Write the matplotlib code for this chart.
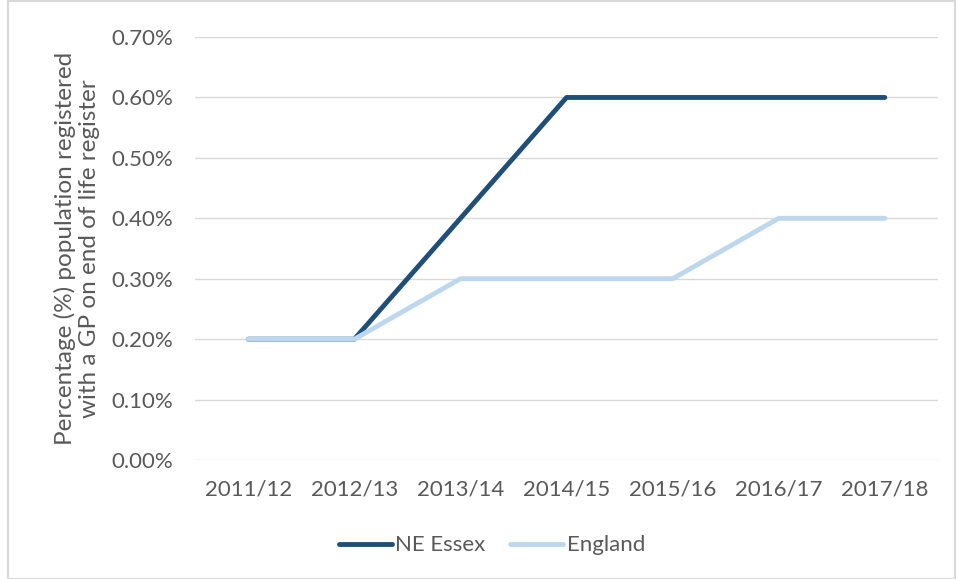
import matplotlib
matplotlib.use("Agg")
import matplotlib.pyplot as plt
from matplotlib.patches import Rectangle
from matplotlib.ticker import FuncFormatter

years = ["2011/12", "2012/13", "2013/14", "2014/15", "2015/16", "2016/17", "2017/18"]
ne_essex = [0.2, 0.2, 0.4, 0.6, 0.6, 0.6, 0.6]
england = [0.2, 0.2, 0.3, 0.3, 0.3, 0.4, 0.4]
y_ticks = [0.0, 0.1, 0.2, 0.3, 0.4, 0.5, 0.6, 0.7]

TEXT = "#595959"
plt.rcParams["font.family"] = ["Lato", "DejaVu Sans"]

fig = plt.figure(figsize=(9.57, 5.79), dpi=100)
ax = fig.add_axes([0.204, 0.2055, 0.776, 0.7305])

x = range(len(years))
ax.plot(x, ne_essex, color="#1F4E79", lw=3.5, solid_capstyle="round",
        solid_joinstyle="round", label="NE Essex", zorder=3)
ax.plot(x, england, color="#BDD7EE", lw=3.5, solid_capstyle="round",
        solid_joinstyle="round", label="England", zorder=4)

ax.set_xlim(-0.5, len(years) - 0.5)
ax.set_ylim(0, 0.7)
ax.set_yticks(y_ticks)
ax.yaxis.set_major_formatter(FuncFormatter(lambda v, _: f"{v:.2f}%"))
ax.set_xticks(list(x))
ax.set_xticklabels(years)
ax.tick_params(axis="both", length=0, colors=TEXT, labelsize=16)
ax.tick_params(axis="x", pad=14)
ax.tick_params(axis="y", pad=16)
ax.grid(axis="y", color="#D9D9D9", lw=1.0)
ax.set_axisbelow(True)
for s in ax.spines.values():
    s.set_visible(False)

ax.set_ylabel("Percentage (%) population registered\nwith a GP on end of life register",
              color=TEXT, fontsize=17.5, labelpad=8, linespacing=1.2)

leg = fig.legend(loc="center", bbox_to_anchor=(0.514, 0.058), ncol=2, frameon=False,
                 fontsize=16, labelcolor=TEXT, handlelength=2.4, handletextpad=0.15,
                 columnspacing=1.1)
for h in leg.get_lines():
    h.set_solid_capstyle("round")

fig.add_artist(Rectangle((0.008, 0.0), 0.99, 0.998, transform=fig.transFigure,
                         fill=False, edgecolor="#D9D9D9", lw=1.5))

fig.savefig("out.png", dpi=100)
